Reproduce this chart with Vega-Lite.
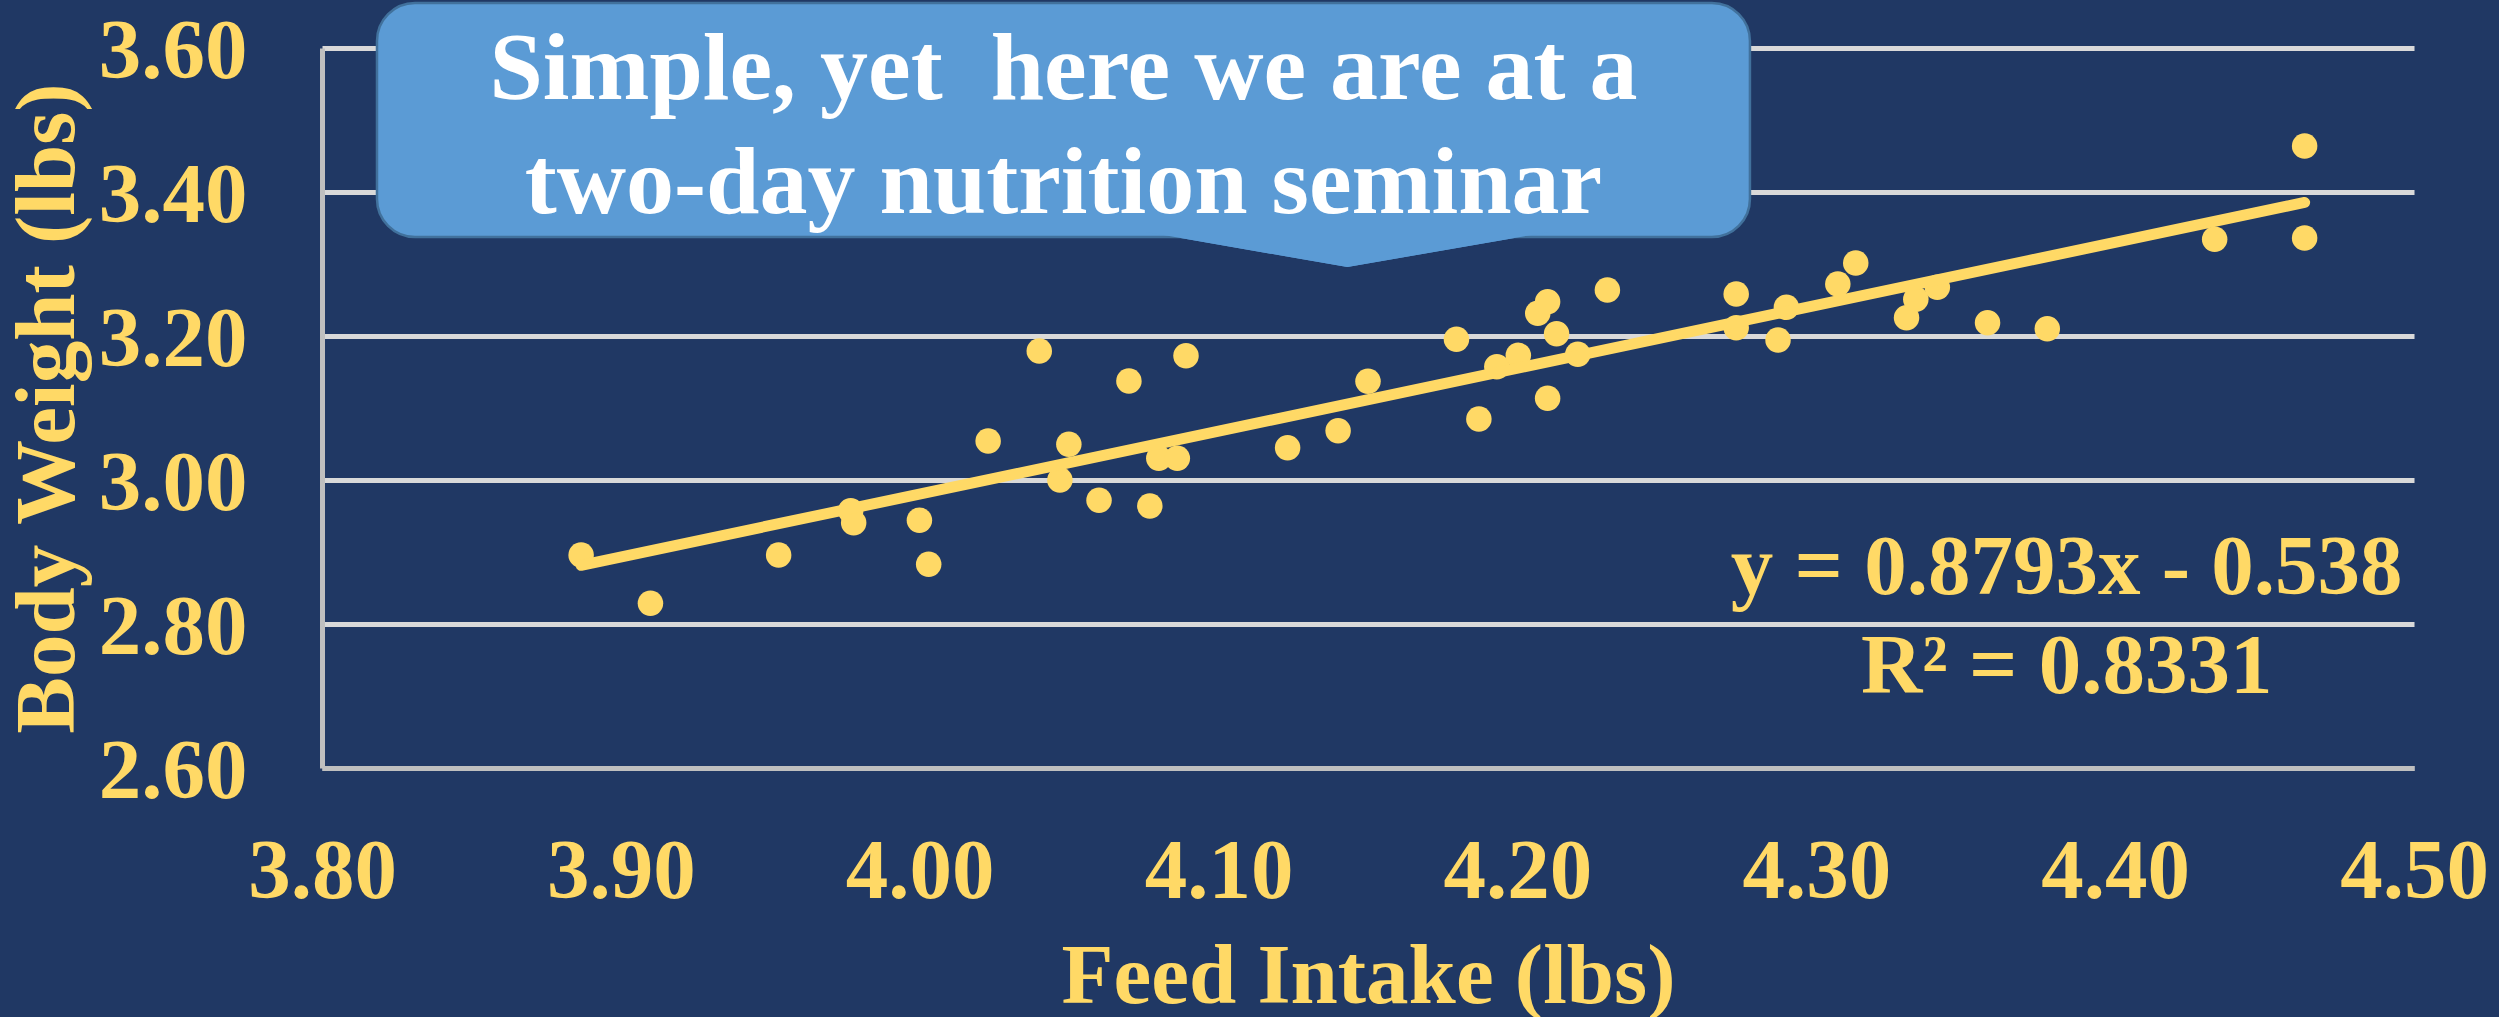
{
  "$schema": "https://vega.github.io/schema/vega-lite/v6.json",
  "width": 2092,
  "height": 720,
  "autosize": {"type": "none"},
  "padding": {"left": 322, "top": 48, "right": 85, "bottom": 249},
  "background": "#203864",
  "config": {
    "view": {"stroke": null},
    "font": "Liberation Serif"
  },
  "data": {
    "values": [
      {"feed": 3.8867, "bw": 2.8958},
      {"feed": 3.9099, "bw": 2.8287},
      {"feed": 3.9528, "bw": 2.8958},
      {"feed": 3.9769, "bw": 2.9574},
      {"feed": 3.9779, "bw": 2.9407},
      {"feed": 3.9999, "bw": 2.9440},
      {"feed": 4.0030, "bw": 2.8829},
      {"feed": 4.0229, "bw": 3.0542},
      {"feed": 4.0400, "bw": 3.1792},
      {"feed": 4.0499, "bw": 3.0496},
      {"feed": 4.0469, "bw": 3.0000},
      {"feed": 4.0600, "bw": 2.9718},
      {"feed": 4.0700, "bw": 3.1375},
      {"feed": 4.0770, "bw": 2.9639},
      {"feed": 4.0800, "bw": 3.0301},
      {"feed": 4.0862, "bw": 3.0301},
      {"feed": 4.0891, "bw": 3.1726},
      {"feed": 4.1231, "bw": 3.0449},
      {"feed": 4.1400, "bw": 3.0685},
      {"feed": 4.1500, "bw": 3.1370},
      {"feed": 4.1796, "bw": 3.1954},
      {"feed": 4.1871, "bw": 3.0847},
      {"feed": 4.1931, "bw": 3.1574},
      {"feed": 4.2003, "bw": 3.1731},
      {"feed": 4.2068, "bw": 3.2315},
      {"feed": 4.2101, "bw": 3.2477},
      {"feed": 4.2101, "bw": 3.1134},
      {"feed": 4.2131, "bw": 3.2032},
      {"feed": 4.2202, "bw": 3.1745},
      {"feed": 4.2301, "bw": 3.2639},
      {"feed": 4.2732, "bw": 3.2583},
      {"feed": 4.2732, "bw": 3.2116},
      {"feed": 4.2872, "bw": 3.1944},
      {"feed": 4.2900, "bw": 3.2398},
      {"feed": 4.3072, "bw": 3.2722},
      {"feed": 4.3132, "bw": 3.3014},
      {"feed": 4.3302, "bw": 3.2255},
      {"feed": 4.3333, "bw": 3.2509},
      {"feed": 4.3405, "bw": 3.2676},
      {"feed": 4.3573, "bw": 3.2185},
      {"feed": 4.3773, "bw": 3.2102},
      {"feed": 4.4333, "bw": 3.3343},
      {"feed": 4.4634, "bw": 3.4639},
      {"feed": 4.4634, "bw": 3.3361}
    ]
  },
  "layer": [
    {
      "mark": {"type": "point", "filled": true, "shape": "circle", "size": 650, "color": "#FFD966", "opacity": 1, "strokeWidth": 0},
      "encoding": {
        "x": {
          "field": "feed", "type": "quantitative",
          "scale": {"domain": [3.8, 4.5], "zero": false, "nice": false},
          "axis": {
            "title": "Feed Intake (lbs)",
            "values": [3.8, 3.9, 4.0, 4.1, 4.2, 4.3, 4.4, 4.5],
            "format": ".2f",
            "grid": false,
            "ticks": false,
            "tickSize": 0,
            "domain": true,
            "domainColor": "#BFBFBF",
            "domainWidth": 5,
            "labelFlush": false,
            "labelOverlap": false,
            "labelBound": false,
            "labelPadding": 62,
            "labelBaseline": "top",
            "labelFont": "Liberation Serif",
            "labelFontWeight": "bold",
            "labelFontSize": 85,
            "labelColor": "#FFD966",
            "titleFont": "Liberation Serif",
            "titleFontWeight": "bold",
            "titleFontSize": 85,
            "titleColor": "#FFD966",
            "titleBaseline": "alphabetic",
            "titleY": 234
          }
        },
        "y": {
          "field": "bw", "type": "quantitative",
          "scale": {"domain": [2.6, 3.6], "zero": false, "nice": false},
          "axis": {
            "title": "Body Weight (lbs)",
            "values": [2.6, 2.8, 3.0, 3.2, 3.4, 3.6],
            "format": ".2f",
            "grid": true,
            "gridColor": "#D9D9D9",
            "gridWidth": 5,
            "ticks": false,
            "tickSize": 0,
            "domain": true,
            "domainColor": "#BFBFBF",
            "domainWidth": 5,
            "labelFlush": false,
            "labelOverlap": false,
            "labelBound": false,
            "labelPadding": 75,
            "labelBaseline": "middle",
            "labelOffset": 3,
            "labelFont": "Liberation Serif",
            "labelFontWeight": "bold",
            "labelFontSize": 85,
            "labelColor": "#FFD966",
            "titleFont": "Liberation Serif",
            "titleFontWeight": "bold",
            "titleFontSize": 85,
            "titleColor": "#FFD966",
            "titleBaseline": "alphabetic",
            "titleX": -249
          }
        }
      }
    },
    {
      "transform": [{"regression": "bw", "on": "feed", "method": "linear"}],
      "mark": {"type": "line", "color": "#FFD966", "strokeWidth": 11, "strokeCap": "round"},
      "encoding": {
        "x": {"field": "feed", "type": "quantitative"},
        "y": {"field": "bw", "type": "quantitative"}
      }
    },
    {
      "data": {"values": [{}]},
      "mark": {"type": "point", "filled": true, "shape": "M -1 -0.0871 L 1 -0.0871 L 0 0.0871 Z", "size": 161604, "color": "#5B9BD5", "opacity": 1, "strokeWidth": 0},
      "encoding": {
        "x": {"datum": 4.1431, "type": "quantitative"},
        "y": {"datum": 3.3201, "type": "quantitative"}
      }
    },
    {
      "data": {"values": [{}]},
      "mark": {"type": "rect", "fill": "#5B9BD5", "stroke": "#41719C", "strokeWidth": 2.5, "cornerRadius": 38},
      "encoding": {
        "x": {"datum": 3.8184, "type": "quantitative"},
        "x2": {"datum": 4.2778},
        "y": {"datum": 3.6625, "type": "quantitative"},
        "y2": {"datum": 3.3375}
      }
    },
    {
      "data": {"values": [{}]},
      "mark": {"type": "point", "filled": true, "shape": "M -1 -0.0871 L 1 -0.0871 L 0 0.0871 Z", "size": 161604, "color": "#5B9BD5", "opacity": 1, "strokeWidth": 0},
      "encoding": {
        "x": {"datum": 4.1431, "type": "quantitative"},
        "y": {"datum": 3.3201, "type": "quantitative"}
      }
    },
    {
      "data": {"values": [{}]},
      "mark": {"type": "text", "text": "Simple, yet\u00a0 here we are at a", "font": "Liberation Serif", "fontWeight": "bold", "fontSize": 96, "color": "#FFFFFF", "align": "center", "baseline": "alphabetic"},
      "encoding": {
        "x": {"datum": 4.0481, "type": "quantitative"},
        "y": {"datum": 3.5287, "type": "quantitative"}
      }
    },
    {
      "data": {"values": [{}]},
      "mark": {"type": "text", "text": "two-day nutrition seminar", "font": "Liberation Serif", "fontWeight": "bold", "fontSize": 96, "color": "#FFFFFF", "align": "center", "baseline": "alphabetic"},
      "encoding": {
        "x": {"datum": 4.0481, "type": "quantitative"},
        "y": {"datum": 3.3704, "type": "quantitative"}
      }
    },
    {
      "data": {"values": [{}]},
      "mark": {"type": "text", "text": "y = 0.8793x - 0.538", "font": "Liberation Serif", "fontWeight": "bold", "fontSize": 85, "color": "#FFD966", "align": "center", "baseline": "alphabetic"},
      "encoding": {
        "x": {"datum": 4.3838, "type": "quantitative"},
        "y": {"datum": 2.8412, "type": "quantitative"}
      }
    },
    {
      "data": {"values": [{}]},
      "mark": {"type": "text", "text": "R² = 0.8331", "font": "Liberation Serif", "fontWeight": "bold", "fontSize": 85, "color": "#FFD966", "align": "center", "baseline": "alphabetic"},
      "encoding": {
        "x": {"datum": 4.3838, "type": "quantitative"},
        "y": {"datum": 2.7046, "type": "quantitative"}
      }
    }
  ]
}
